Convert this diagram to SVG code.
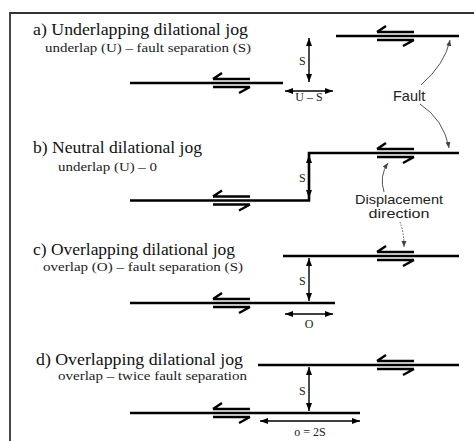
<svg xmlns="http://www.w3.org/2000/svg" width="474" height="441" viewBox="0 0 474 441">
<style>
.title{font-family:"Liberation Serif",serif;font-size:16px;fill:#111}
.sub{font-family:"Liberation Serif",serif;font-size:12px;fill:#222}
.lab{font-family:"Liberation Serif",serif;font-size:12px;fill:#222}
.sans{font-family:"Liberation Sans",Arial,sans-serif;font-size:14.5px;fill:#222}
.sans2{font-family:"Liberation Sans",Arial,sans-serif;font-size:13px;fill:#222}
.fault{fill:none;stroke:#000;stroke-width:2.6}
.dim{fill:none;stroke:#000;stroke-width:1.4;marker-start:url(#ah);marker-end:url(#ah)}
.lead{fill:none;stroke:#555;stroke-width:1;marker-end:url(#sh)}
.sense path{fill:none;stroke:#000;stroke-width:2.4}
</style>
<defs>
<marker id="ah" markerUnits="userSpaceOnUse" markerWidth="9" markerHeight="7" refX="8" refY="3" orient="auto-start-reverse"><path d="M0,0 L8,3 L0,6 z" fill="#000"/></marker>
<marker id="sh" markerUnits="userSpaceOnUse" markerWidth="7" markerHeight="6" refX="6" refY="2.5" orient="auto"><path d="M0,0 L6,2.5 L0,5 z" fill="#444"/></marker>
<g id="sense" class="sense"><path d="M-18,-4 H19 M-18,-4 L-9,-10"/><path d="M-18,4 H19 M19,4 L8,10"/></g>
</defs>
<rect width="474" height="441" fill="#fff"/>
<path d="M476,13 H10 V443" fill="none" stroke="#333" stroke-width="1.8"/>

<g id="panel-a">
<text class="title" x="33" y="35" textLength="215" lengthAdjust="spacingAndGlyphs">a) Underlapping dilational jog</text>
<text class="sub" x="45" y="52" textLength="206" lengthAdjust="spacingAndGlyphs">underlap (U) – fault separation (S)</text>
<path class="fault" d="M130,83 H283"/>
<path class="fault" d="M336,36 H459"/>
<use href="#sense" x="231" y="83"/>
<use href="#sense" x="395" y="36"/>
<text class="lab" x="299" y="65">S</text>
<text class="lab" x="309" y="101" text-anchor="middle" font-size="11">U – S</text>
</g>

<g id="panel-b">
<text class="title" x="33" y="153" textLength="169" lengthAdjust="spacingAndGlyphs">b) Neutral dilational jog</text>
<text class="sub" x="58" y="171" textLength="99" lengthAdjust="spacingAndGlyphs">underlap (U) – 0</text>
<path class="fault" d="M130,200.5 H309 V153 H459"/>
<use href="#sense" x="231" y="200.5"/>
<use href="#sense" x="395" y="153"/>
<text class="lab" x="299" y="182">S</text>
</g>

<g id="panel-c">
<text class="title" x="33" y="255" textLength="202" lengthAdjust="spacingAndGlyphs">c) Overlapping dilational jog</text>
<text class="sub" x="43" y="271" textLength="200" lengthAdjust="spacingAndGlyphs">overlap (O) – fault separation (S)</text>
<path class="fault" d="M283,256 H459"/>
<path class="fault" d="M130,303 H335"/>
<use href="#sense" x="231" y="303"/>
<use href="#sense" x="395" y="256"/>
<text class="lab" x="299" y="285">S</text>
<text class="lab" x="309" y="328" text-anchor="middle">O</text>
</g>

<g id="panel-d">
<text class="title" x="36" y="365" textLength="207" lengthAdjust="spacingAndGlyphs">d) Overlapping dilational jog</text>
<text class="sub" x="58" y="380" textLength="189" lengthAdjust="spacingAndGlyphs">overlap – twice fault separation</text>
<path class="fault" d="M258,365 H459"/>
<path class="fault" d="M130,413 H360"/>
<use href="#sense" x="231" y="413"/>
<use href="#sense" x="395" y="365"/>
<text class="lab" x="299" y="395">S</text>
<text class="lab" x="310" y="436" text-anchor="middle" font-size="13">o = 2S</text>
</g>

<g id="label-fault"><text class="sans" x="393" y="101">Fault</text></g>
<g id="label-displacement">
<text class="sans2" x="399" y="204" text-anchor="middle" textLength="88" lengthAdjust="spacingAndGlyphs">Displacement</text>
<text class="sans2" x="399" y="218" text-anchor="middle" textLength="61" lengthAdjust="spacingAndGlyphs">direction</text>
</g>

<g id="connectors">
<path class="dim" d="M309,38 V82"/>
<path class="dim" d="M285,91 H333"/>
<path class="dim" d="M309,155 V198"/>
<path class="dim" d="M309,258 V301"/>
<path class="dim" d="M285,314 H333"/>
<path class="dim" d="M309,367 V411"/>
<path class="dim" d="M260,421 H360"/>
<path class="lead" d="M421,85 Q445,64 450,40"/>
<path class="lead" d="M420,104 Q444,120 449,148"/>
<path class="lead" d="M384,192 Q379,176 388,163"/>
<path class="lead" d="M400,222 Q404,232 404,247" stroke-dasharray="1.5 1.5"/>
</g>
</svg>
